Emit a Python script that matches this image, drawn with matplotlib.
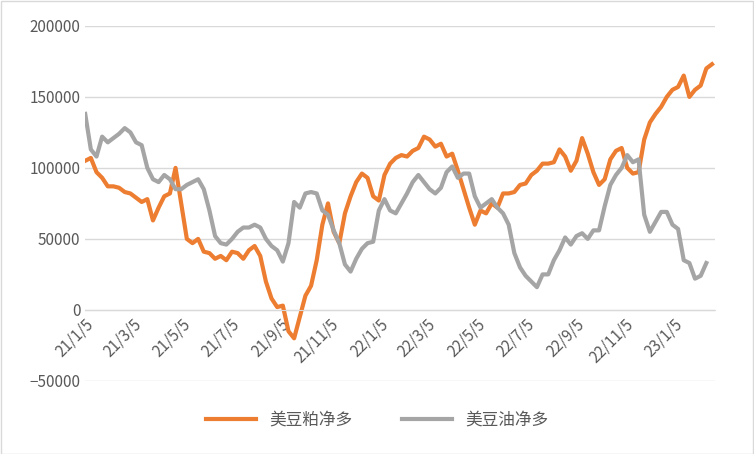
import matplotlib
matplotlib.use("Agg")
import matplotlib.pyplot as plt
import datetime as dt

plt.rcParams['font.family'] = ['Noto Sans CJK SC', 'DejaVu Sans']

meal = [105,107,97,93,87,87,86,83,82,79,76,78,63,72,80,82,100,75,50,47,50,41,40,36,38,35,41,40,36,42,45,38,20,8,2,3,-15,-20,-5,10,17,35,60,75,55,47,68,80,90,96,93,80,77,95,103,107,109,108,112,114,122,120,115,117,108,110,98,85,72,60,70,68,75,72,82,82,83,88,89,95,98,103,103,104,113,108,98,105,121,110,97,88,92,106,112,114,100,96,97,120,132,138,143,150,155,157,165,150,155,158,170,173]
oil = [138,113,108,122,118,121,124,128,125,118,116,100,92,90,95,92,85,85,88,90,92,85,70,52,47,46,50,55,58,58,60,58,50,45,42,34,47,76,72,82,83,82,70,67,56,47,32,27,36,43,47,48,70,78,70,68,75,82,90,95,90,85,82,86,97,101,93,96,96,80,72,75,78,72,68,60,40,30,24,20,16,25,25,35,42,51,46,52,54,50,56,56,73,88,95,100,109,104,106,67,55,62,69,69,60,57,35,33,22,24,33]
tick_labels = ['21/1/5','21/3/5','21/5/5','21/7/5','21/9/5','21/11/5','22/1/5','22/3/5','22/5/5','22/7/5','22/9/5','22/11/5','23/1/5']
start = dt.date(2021,1,5)
def pos(s):
    y,m,d = s.split('/')
    return (dt.date(2000+int(y),int(m),int(d))-start).days/7.0
ticks = [pos(s) for s in tick_labels]

fig = plt.figure(figsize=(7.54,4.54), dpi=100)
fig.patches.append(plt.Rectangle((0.001,0.001),0.998,0.997,transform=fig.transFigure,fill=False,edgecolor='#D9D9D9',lw=1))
ax = fig.add_axes([0.113,0.161,0.835,0.782])
ax.plot(range(len(meal)),[v*1000 for v in meal],color='#ED7D31',lw=3,label='美豆粕净多')
ax.plot(range(len(oil)),[v*1000 for v in oil],color='#A5A5A5',lw=3,label='美豆油净多')
ax.set_ylim(-50000,200000)
ax.set_yticks(range(-50000,200001,50000))
ax.set_xlim(0,max(len(meal),len(oil))-0.5)
ax.yaxis.grid(True,color='#D9D9D9',lw=1)
ax.set_axisbelow(True)
for s in ['top','right','left']:
    ax.spines[s].set_visible(False)
ax.spines['bottom'].set_position(('data',0))
ax.spines['bottom'].set_color('#D9D9D9')
ax.set_xticks(ticks)
ax.set_xticklabels(tick_labels,rotation=45,ha='right',va='top',rotation_mode='anchor')
ax.tick_params(axis='both',length=0,labelsize=11,colors='#595959')
ax.tick_params(axis='x',pad=4)
h,l = ax.get_legend_handles_labels()
fig.legend(h,l,loc='center',bbox_to_anchor=(0.5,0.075),ncol=2,frameon=False,fontsize=12,labelcolor='#595959',handlelength=3,columnspacing=3)
fig.savefig('out.png')
